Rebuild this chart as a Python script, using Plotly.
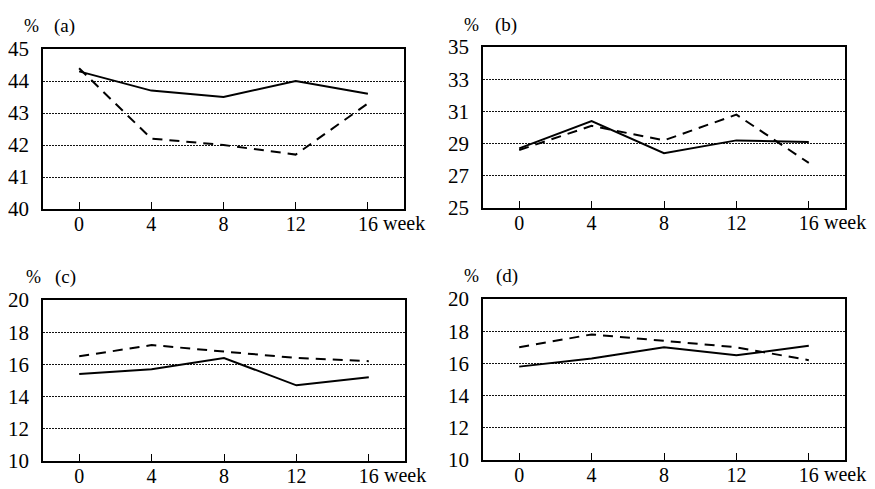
import plotly.graph_objects as go

weeks = [0, 4, 8, 12, 16]
week_labels = ["0", "4", "8", "12", "16"]

a_solid = [44.3, 43.7, 43.5, 44.0, 43.6]
a_dashed = [44.4, 42.2, 42.0, 41.7, 43.3]
b_solid = [28.7, 30.4, 28.4, 29.2, 29.1]
b_dashed = [28.6, 30.1, 29.2, 30.8, 27.8]
c_solid = [15.4, 15.7, 16.4, 14.7, 15.2]
c_dashed = [16.5, 17.2, 16.8, 16.4, 16.2]
d_solid = [15.8, 16.3, 17.0, 16.5, 17.1]
d_dashed = [17.0, 17.8, 17.4, 17.0, 16.2]

panel_names = ["(a)", "(b)", "(c)", "(d)"]
y_ticks = [
    [40, 41, 42, 43, 44, 45],
    [25, 27, 29, 31, 33, 35],
    [10, 12, 14, 16, 18, 20],
    [10, 12, 14, 16, 18, 20],
]
series = [(a_solid, a_dashed), (b_solid, b_dashed), (c_solid, c_dashed), (d_solid, d_dashed)]

W, H = 875, 489
OFF = 8  # page body margin
# panel boxes in page pixels: left, right, top, bottom
boxes = [(43, 404, 49, 209), (483, 845, 47, 208), (43, 405, 300, 461), (483, 845, 299, 460)]
label_pos = [((31, 26), (64, 26)), ((472, 25), (506, 25)), ((33, 277), (66, 277)), ((472, 276), (507, 276))]

FONT = "Liberation Serif, Times New Roman, serif"
fig = go.Figure()
annotations = []
for i, ((solid, dashed), ticks, box, name, lp) in enumerate(zip(series, y_ticks, boxes, panel_names, label_pos)):
    n = "" if i == 0 else str(i + 1)
    xa, ya = "x" + n, "y" + n
    fig.add_trace(go.Scatter(x=weeks, y=solid, mode="lines", xaxis=xa, yaxis=ya,
                             line=dict(color="black", width=2), showlegend=False))
    fig.add_trace(go.Scatter(x=weeks, y=dashed, mode="lines", xaxis=xa, yaxis=ya,
                             line=dict(color="black", width=2, dash="10px,7px"), showlegend=False))
    l, r, t, b = [v - OFF for v in box]
    fig.update_layout(**{
        "xaxis" + n: dict(domain=[l / W, r / W], range=[-2, 18], tickvals=weeks, ticktext=week_labels,
                          ticks="inside", ticklen=7, tickwidth=1, tickcolor="black",
                          showline=True, linecolor="black", linewidth=1.5, mirror=True,
                          showgrid=False, zeroline=False, anchor=ya, automargin=False,
                          ticklabelstandoff=-4,
                          tickfont=dict(family=FONT, size=20, color="black")),
        "yaxis" + n: dict(domain=[1 - b / H, 1 - t / H], range=[ticks[0], ticks[-1]], tickvals=ticks,
                          ticks="", showline=True, linecolor="black", linewidth=1.5, mirror=True,
                          showgrid=True, gridcolor="#111", gridwidth=1, griddash="2px,1px",
                          zeroline=False, anchor=xa, ticklabelstandoff=8, automargin=False,
                          tickfont=dict(family=FONT, size=21, color="black")),
    })
    annotations.append(dict(text="week", x=16, xref=xa, y=0, yref=ya + " domain",
                            xanchor="left", yanchor="top", xshift=13, yshift=-1, showarrow=False,
                            font=dict(family=FONT, size=20, color="black")))
    annotations.append(dict(text="%", x=(lp[0][0] - OFF) / W, y=1 - (lp[0][1] - OFF) / H,
                            xref="paper", yref="paper",
                            xanchor="center", yanchor="middle", showarrow=False,
                            font=dict(family=FONT, size=18, color="black")))
    annotations.append(dict(text=name, x=(lp[1][0] - OFF) / W, y=1 - (lp[1][1] - OFF) / H,
                            xref="paper", yref="paper",
                            xanchor="center", yanchor="middle", showarrow=False,
                            font=dict(family=FONT, size=19, color="black")))

fig.update_layout(width=W, height=H, margin=dict(l=0, r=0, t=0, b=0, autoexpand=False),
                  paper_bgcolor="white", plot_bgcolor="white", annotations=annotations)
fig.write_html("out.html")
